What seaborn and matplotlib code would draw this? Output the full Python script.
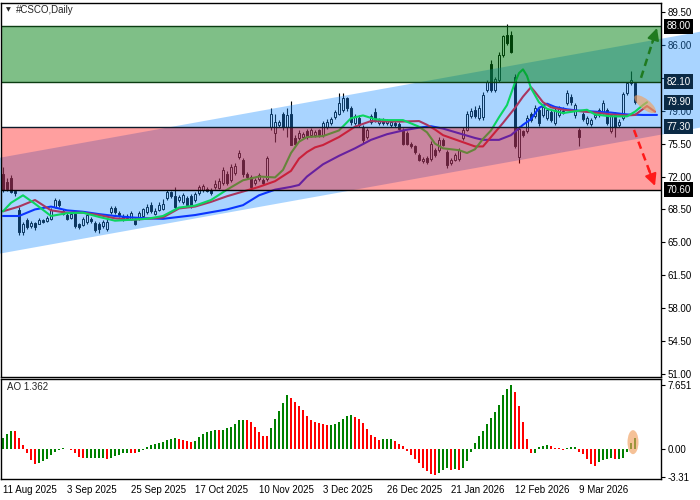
import matplotlib
matplotlib.use("Agg")
import matplotlib.pyplot as plt
import seaborn as sns
import numpy as np
from matplotlib.patches import Polygon, Ellipse
from matplotlib.transforms import ScaledTranslation

# daily candles (bar 0 = 11 Aug 2025)
opens = [72.3, 71.4, 71.8, 70.5, 68.4, 66.1, 67.4, 66.7, 67.1, 67.0,
         67.4, 67.3, 67.5, 68.8, 69.4, 68.3, 67.9, 67.6, 68.0, 67.0,
         66.8, 67.2, 67.5, 67.1, 67.0, 66.7, 66.4, 68.2, 68.7, 68.1,
         67.8, 67.6, 67.5, 67.5, 67.6, 67.8, 68.2, 69.0, 68.0, 68.4,
         68.5, 69.7, 70.3, 69.9, 69.5, 69.3, 69.7, 69.9, 69.5, 70.2,
         70.6, 70.7, 70.6, 70.9, 70.8, 71.3, 72.3, 71.6, 72.4, 74.1,
         73.8, 72.3, 72.0, 71.3, 71.7, 71.6, 71.7, 77.3, 76.6, 77.5,
         78.7, 77.3, 78.7, 76.1, 76.1, 76.2, 76.8, 76.4, 76.4, 76.9,
         76.4, 77.3, 77.7, 78.3, 78.7, 79.1, 80.3, 79.3, 77.7, 78.2,
         77.3, 76.2, 77.8, 78.9, 77.7, 78.0, 77.7, 77.5, 77.7, 77.6,
         77.0, 76.6, 75.5, 75.2, 74.3, 73.6, 74.0, 73.9, 74.8, 74.8,
         75.9, 74.6, 73.4, 73.8, 73.9, 76.1, 77.0, 78.4, 79.1, 78.2,
         78.3, 81.2, 84.0, 81.2, 82.3, 84.9, 87.05, 87.05, 82.6, 74.1,
         76.8, 76.8, 78.6, 78.4, 79.1, 78.5, 78.2, 78.9, 77.7, 78.5,
         79.0, 79.8, 80.5, 78.5, 77.0, 78.6, 77.7, 77.6, 78.3, 78.5,
         78.9, 79.1, 76.8, 78.7, 77.5, 78.2, 80.9, 81.9, 81.9]
highs = [73.0, 71.8, 72.2, 70.6, 68.8, 67.2, 67.6, 67.3, 67.2, 67.6,
         67.5, 67.8, 68.6, 69.7, 69.6, 68.5, 68.1, 68.2, 68.3, 67.1,
         67.7, 68.2, 67.7, 67.3, 67.2, 67.4, 67.5, 68.9, 68.9, 68.3,
         68.0, 68.0, 68.3, 67.7, 68.3, 68.7, 69.1, 69.3, 68.6, 69.3,
         69.6, 70.6, 70.5, 70.9, 70.0, 70.2, 69.9, 70.1, 70.3, 71.1,
         71.2, 70.9, 70.8, 71.6, 71.8, 73.0, 72.6, 73.3, 73.4, 74.8,
         74.0, 72.5, 72.2, 71.8, 72.4, 71.8, 74.2, 79.3, 78.7, 78.0,
         78.9, 79.3, 80.0, 76.4, 76.9, 76.7, 77.1, 77.2, 76.9, 77.1,
         77.9, 78.1, 78.3, 79.1, 80.85, 80.85, 80.5, 79.5, 78.6, 78.5,
         77.5, 77.2, 78.6, 79.3, 78.2, 78.2, 78.1, 78.0, 77.9, 77.8,
         77.2, 76.8, 75.7, 75.4, 74.5, 74.1, 74.2, 75.8, 75.0, 76.2,
         76.1, 74.8, 74.0, 74.5, 75.0, 77.3, 79.0, 79.3, 79.5, 79.6,
         81.0, 82.3, 84.4, 82.6, 85.2, 87.1, 88.2, 87.5, 82.9, 77.4,
         77.0, 78.5, 78.9, 79.6, 79.3, 79.6, 79.3, 79.1, 79.3, 79.5,
         79.4, 81.2, 80.8, 79.8, 77.2, 78.9, 78.4, 78.2, 78.8, 79.3,
         80.1, 79.3, 78.7, 78.9, 78.1, 81.0, 82.1, 83.2, 82.1]
lows = [70.4, 70.5, 70.2, 69.9, 65.8, 65.8, 66.4, 66.5, 66.3, 66.9,
        67.1, 67.2, 67.4, 68.6, 68.8, 67.9, 67.4, 67.5, 66.5, 66.4,
        66.7, 67.0, 67.1, 66.1, 66.0, 66.5, 66.2, 68.0, 68.0, 67.7,
        67.3, 67.4, 67.4, 66.8, 67.4, 67.7, 68.0, 68.1, 67.9, 68.3,
        68.4, 69.5, 69.7, 68.4, 69.3, 69.1, 68.8, 68.7, 69.3, 70.0,
        70.4, 70.3, 70.0, 70.7, 70.7, 71.1, 71.1, 71.4, 72.2, 73.9,
        72.0, 71.7, 70.7, 71.1, 71.5, 71.1, 71.5, 77.0, 75.7, 77.3,
        77.0, 76.2, 75.3, 75.3, 75.9, 76.0, 76.0, 76.2, 76.2, 76.2,
        76.2, 77.1, 77.5, 78.1, 78.5, 78.9, 79.0, 77.5, 77.5, 77.3,
        75.6, 76.0, 77.6, 77.8, 77.5, 77.5, 77.5, 77.3, 77.3, 76.9,
        75.3, 75.3, 75.0, 74.4, 73.6, 73.4, 73.3, 73.7, 74.1, 74.6,
        75.2, 72.9, 73.2, 73.6, 73.7, 75.9, 76.8, 78.2, 78.2, 78.0,
        78.0, 81.0, 81.0, 81.0, 82.1, 84.7, 86.0, 85.1, 75.0, 73.4,
        76.2, 76.6, 77.8, 78.2, 77.4, 78.3, 78.0, 77.8, 77.5, 78.3,
        78.6, 79.6, 79.6, 78.2, 75.2, 77.9, 77.5, 77.4, 78.1, 78.3,
        78.7, 77.5, 76.6, 76.2, 77.3, 78.0, 80.7, 81.7, 79.7]
closes = [70.6, 70.7, 70.4, 70.2, 66.1, 67.0, 66.6, 67.1, 66.6, 67.4,
          67.2, 67.6, 68.4, 69.5, 69.0, 68.0, 67.5, 68.0, 66.7, 66.6,
          67.5, 67.9, 67.3, 66.3, 66.4, 67.2, 67.2, 68.6, 68.2, 67.9,
          67.5, 67.8, 68.1, 67.0, 68.1, 68.5, 68.8, 68.3, 68.3, 69.0,
          69.1, 70.4, 69.9, 68.8, 69.8, 70.0, 69.0, 69.0, 70.1, 70.9,
          71.0, 70.5, 70.2, 71.2, 71.5, 72.7, 71.3, 73.0, 73.1, 74.5,
          72.3, 71.9, 70.9, 71.6, 72.2, 71.3, 74.0, 78.7, 77.8, 77.8,
          77.3, 78.5, 75.4, 75.5, 76.6, 76.5, 76.2, 76.9, 76.7, 76.4,
          77.7, 77.8, 78.1, 78.9, 79.8, 80.3, 79.3, 77.8, 78.4, 77.5,
          75.9, 77.0, 78.4, 78.0, 78.0, 77.7, 77.9, 77.8, 77.5, 77.1,
          75.5, 75.5, 75.2, 74.6, 73.8, 73.9, 73.5, 75.5, 74.3, 75.9,
          75.4, 73.2, 73.8, 74.3, 74.8, 77.0, 78.7, 79.0, 78.4, 79.3,
          80.7, 82.1, 81.2, 82.4, 84.9, 86.9, 86.2, 85.3, 75.2, 77.1,
          76.4, 78.2, 78.0, 79.3, 77.7, 79.4, 79.1, 78.0, 79.1, 79.3,
          78.8, 80.9, 79.9, 79.6, 76.2, 78.1, 78.2, 78.0, 78.5, 79.1,
          79.8, 77.7, 78.5, 77.3, 77.8, 80.8, 81.9, 82.3, 79.9]

# Awesome Oscillator histogram
ao = [1.27, 1.75, 2.19, 2.15, 1.27, 0.44, -0.48, -1.31, -1.79, -1.67,
      -1.43, -1.16, -0.72, -0.32, -0.08, 0.08, -0.04, -0.16, -0.48, -1.00,
      -1.12, -1.10, -1.08, -1.06, -1.04, -1.02, -1.24, -1.10, -0.88, -0.72,
      -0.52, -0.48, -0.50, -0.52, -0.32, -0.08, 0.20, 0.44, 0.56, 0.68,
      0.84, 1.04, 1.20, 1.35, 1.24, 1.04, 0.96, 0.84, 0.96, 1.39,
      1.83, 1.99, 2.15, 2.23, 2.22, 2.24, 2.47, 2.59, 2.95, 3.43,
      3.45, 3.42, 3.19, 2.59, 2.03, 1.51, 1.50, 2.47, 3.55, 4.58,
      5.54, 6.41, 6.06, 5.66, 5.14, 4.66, 3.98, 3.43, 3.27, 3.11,
      2.95, 2.83, 2.85, 2.99, 3.23, 3.59, 3.90, 4.02, 3.86, 3.59,
      3.11, 2.39, 1.67, 1.40, 1.12, 1.14, 1.15, 1.16, 0.96, 0.56,
      0.32, -0.24, -0.72, -1.20, -1.67, -2.27, -2.63, -2.99, -3.11, -2.83,
      -2.47, -2.23, -2.51, -2.43, -2.51, -2.23, -1.43, -0.36, 0.72, 1.55,
      2.15, 2.99, 3.71, 4.46, 5.22, 6.45, 7.17, 7.65, 6.77, 5.10,
      3.19, 1.16, -0.48, -0.46, 0.20, 0.36, 0.44, 0.32, 0.12, 0.10,
      -0.12, 0.08, 0.20, 0.22, -0.32, -0.64, -1.20, -1.83, -2.07, -1.55,
      -1.31, -1.24, -1.12, -1.20, -1.18, -1.08, -0.40, 0.68, 1.36]

# Alligator lines (lips / teeth / jaw), read at these bar positions
lips_idx = [0, 2, 5, 8, 12, 16, 20, 24, 28, 32, 36, 40, 44, 48, 52, 56, 60, 64, 68, 70,
            72, 74, 76, 80, 84, 87, 90, 93, 96, 100, 104, 106, 108, 110, 114, 116, 118, 120, 122, 124,
            126, 128, 129, 130, 131, 132, 134, 136, 140, 144, 146, 148, 152, 156, 158, 160, 161]
lips = [68.3, 69.2, 70.0, 69.1, 67.8, 68.1, 68.15, 67.7, 67.3, 67.4, 67.5, 67.8, 68.7, 68.9, 69.5, 70.6, 71.6, 72.0, 71.9, 72.7,
        74.5, 75.7, 76.2, 76.3, 76.9, 78.2, 78.5, 78.1, 78.0, 78.0, 77.3, 76.7, 75.5, 75.0, 74.8, 74.5, 74.9, 76.0, 76.9, 78.3,
        79.6, 82.0, 83.0, 83.4, 82.7, 81.4, 79.9, 79.2, 78.75, 79.0, 79.1, 78.6, 78.4, 78.4, 78.9, 79.6, 79.9]
teeth_idx = [0, 4, 8, 12, 16, 20, 24, 28, 32, 36, 40, 44, 48, 52, 56, 60, 64, 68, 72, 74,
             76, 78, 80, 84, 88, 92, 96, 100, 104, 106, 108, 110, 114, 118, 120, 122, 125, 128, 130, 132,
             133, 135, 137, 140, 144, 148, 152, 156, 158, 161, 163]
teeth = [68.3, 68.8, 69.5, 68.4, 68.15, 68.15, 67.9, 67.55, 67.4, 67.5, 67.65, 68.6, 68.8, 69.3, 69.9, 70.4, 70.9, 71.5, 72.6, 73.9,
         74.6, 75.1, 75.35, 76.2, 77.3, 77.9, 77.85, 77.85, 77.9, 77.5, 77.0, 76.4, 75.8, 75.2, 75.2, 76.2, 77.7, 79.3, 80.5, 81.5,
         81.0, 79.9, 79.36, 79.1, 78.95, 78.8, 78.6, 78.5, 78.55, 79.5, 78.9]
jaw_idx = [0, 4, 8, 12, 16, 20, 24, 28, 32, 36, 40, 44, 48, 52, 56, 60, 64, 68, 72, 74,
           76, 80, 84, 88, 92, 96, 100, 104, 107, 110, 114, 118, 120, 124, 127, 130, 132, 134, 136, 138,
           141, 144, 148, 152, 156, 160, 163.5]
jaw = [67.8, 67.8, 68.5, 68.8, 68.4, 68.25, 68.0, 67.8, 67.65, 67.55, 67.5, 67.7, 67.9, 68.2, 68.5, 68.95, 70.0, 70.6, 70.9, 71.1,
       72.0, 73.3, 74.2, 75.0, 75.9, 76.5, 76.9, 77.2, 77.35, 77.1, 76.6, 76.1, 75.9, 75.9, 76.4, 77.5, 78.1, 79.3, 79.75, 79.4,
       79.15, 79.0, 78.9, 78.8, 78.6, 78.55, 78.55]

date_ticks = [0, 16, 32, 48, 64, 80, 96, 112, 128, 144]
date_labels = ['11 Aug 2025', '3 Sep 2025', '25 Sep 2025', '17 Oct 2025', '10 Nov 2025',
               '3 Dec 2025', '26 Dec 2025', '21 Jan 2026', '12 Feb 2026', '9 Mar 2026']
price_ticks = [89.5, 86.0, 82.5, 79.0, 75.5, 72.0, 68.5, 65.0, 61.5, 58.0, 54.5, 51.0]
ao_ticks = [7.651, 0.0, -3.31]
ao_tick_labels = ['7.651', '0.00', '-3.31']

buy_zone = [82.10, 88.00]
sell_zone = [70.60, 77.30]
last_price = 79.90
# rising channel: upper edge at the left and right border of the picture, and its height
channel_upper = [74.0, 87.4]
channel_height = 10.2

sns.set_style("white")
plt.rcParams['font.family'] = ['Liberation Sans', 'DejaVu Sans']

fig = plt.figure(figsize=(7, 5), dpi=100)
ax = fig.add_axes([1 / 700, 123 / 500, 660 / 700, 374 / 500])
ax_ao = fig.add_axes([1 / 700, 21 / 500, 660 / 700, 100 / 500])

n = len(closes)
idx = np.arange(n)
o = np.array(opens)
c = np.array(closes)
up = c >= o

# candles
ax.vlines(idx, lows, highs, color='black', lw=0.8, zorder=1)
ax.bar(idx, np.maximum(np.abs(c - o), 0.04), bottom=np.minimum(o, c), width=0.55,
       color=np.where(up, 'white', 'black'), edgecolor='black', linewidth=0.7, zorder=1.2)

# alligator
sns.lineplot(x=jaw_idx, y=jaw, ax=ax, color='#0000FF', lw=1.5, zorder=1.5)
sns.lineplot(x=teeth_idx, y=teeth, ax=ax, color='#FF0000', lw=1.5, zorder=1.6)
sns.lineplot(x=lips_idx, y=lips, ax=ax, color='#00FF00', lw=1.5, zorder=1.7)

xmin, xmax = -0.5, 164.5
ax.set_xlim(xmin, xmax)
ax.set_ylim(50.67, 90.46)

# channel and zones are laid over the chart, semi transparent
xl, xr = -0.75, 174.25
chan = Polygon([[xl, channel_upper[0]], [xr, channel_upper[1]],
                [xr, channel_upper[1] - channel_height], [xl, channel_upper[0] - channel_height]],
               closed=True, facecolor='#1E90FF', alpha=0.38, lw=0, zorder=2, clip_on=False)
ax.add_patch(chan)
ax.axhspan(sell_zone[0], sell_zone[1], color='#FF0000', alpha=0.376, lw=0, zorder=2.1)
ax.axhspan(buy_zone[0], buy_zone[1], color='#008010', alpha=0.5, lw=0, zorder=2.2)
for lvl, col in [(buy_zone[1], '#0b3d12'), (buy_zone[0], '#0b3d12'),
                 (sell_zone[1], '#0d1b2a'), (sell_zone[0], '#000000')]:
    ax.axhline(lvl, color=col, lw=1, zorder=2.3)

# arrows
def dashed_arrow(x0, y0, x1, y1, color):
    ax.plot([x0, x0 + (x1 - x0) * 0.85], [y0, y0 + (y1 - y0) * 0.85],
            ls=(0, (3, 2)), color=color, lw=1.8, zorder=3, clip_on=False)
    ax.annotate('', xy=(x1, y1), xytext=(x0 + (x1 - x0) * 0.7, y0 + (y1 - y0) * 0.7),
                arrowprops=dict(arrowstyle='-|>,head_length=0.7,head_width=0.35', color=color,
                                lw=1.5, shrinkA=0, shrinkB=0),
                zorder=3, annotation_clip=False)

dashed_arrow(n + 0.5, buy_zone[0] + 0.4, n + 4.5, buy_zone[1] - 0.2, '#1f7a1f')
dashed_arrow(n - 1.25, sell_zone[1] - 0.35, n + 4.0, sell_zone[0] + 0.4, '#ff1a1a')

# highlight ellipses
tr = fig.dpi_scale_trans + ScaledTranslation(n + 1.5, last_price - 0.2, ax.transData)
ax.add_patch(Ellipse((0, 0), 0.26, 0.10, angle=-38, transform=tr,
                     facecolor='#F0A060', alpha=0.65, lw=0, zorder=3, clip_on=False))

# price axis (82.50 sits under the 82.10 tag, so its text is left empty)
ax.yaxis.tick_right()
ax.set_yticks(price_ticks)
ax.set_yticklabels(['' if v == 82.5 else f'{v:.2f}' for v in price_ticks])
ax.set_xticks([])
ax.tick_params(axis='y', direction='out', length=3, width=0.8, labelsize=7, pad=2,
               colors='black')
for sp in ax.spines.values():
    sp.set_color('black')
    sp.set_linewidth(1)
ax.set_xlabel('')
ax.set_ylabel('')

for val, bg in [(buy_zone[1], 'black'), (buy_zone[0], '#0b2a45'), (last_price, '#0b2a45'),
                (sell_zone[1], '#0b2a45'), (sell_zone[0], 'black')]:
    ax.text(1.008, val, f'{val:.2f}', transform=ax.get_yaxis_transform(), fontsize=7,
            color='white', va='center', ha='left', zorder=10, clip_on=False,
            bbox=dict(boxstyle='square,pad=0.25', facecolor=bg, edgecolor='none'))

fig.text(8 / 700, 1 - 10 / 500, '\u25BC', fontsize=4.5, va='center', ha='center',
         family=['DejaVu Sans'])
fig.text(16 / 700, 1 - 10 / 500, '#CSCO,Daily', fontsize=7, va='center', ha='left')

# AO panel
ao_arr = np.array(ao)
rising = np.concatenate([[True], ao_arr[1:] > ao_arr[:-1]])
ax_ao.bar(idx, ao_arr, width=0.7, color=np.where(rising, '#008000', '#FF0000'), lw=0, zorder=1)
ax_ao.set_xlim(xmin, xmax)
ax_ao.set_ylim(-3.58, 8.36)

tr2 = fig.dpi_scale_trans + ScaledTranslation(n - 1.5, (ao[-1] + ao[-2]) / 2 - 0.2, ax_ao.transData)
ax_ao.add_patch(Ellipse((0, 0), 0.11, 0.24, transform=tr2,
                        facecolor='#F0A060', alpha=0.65, lw=0, zorder=3, clip_on=False))

ax_ao.yaxis.tick_right()
ax_ao.set_yticks(ao_ticks)
ax_ao.set_yticklabels(ao_tick_labels)
ax_ao.set_xticks(date_ticks)
ax_ao.set_xticklabels(date_labels, ha='left')
ax_ao.tick_params(axis='both', direction='out', length=3, width=0.8, labelsize=7, pad=2,
                  colors='black')
ax_ao.tick_params(axis='x', pad=1)
for sp in ax_ao.spines.values():
    sp.set_color('black')
    sp.set_linewidth(1)
ax_ao.text(6 / 660, 0.92, 'AO 1.362', transform=ax_ao.transAxes, fontsize=7, va='center', ha='left')

fig.savefig('out.png', dpi=100)
